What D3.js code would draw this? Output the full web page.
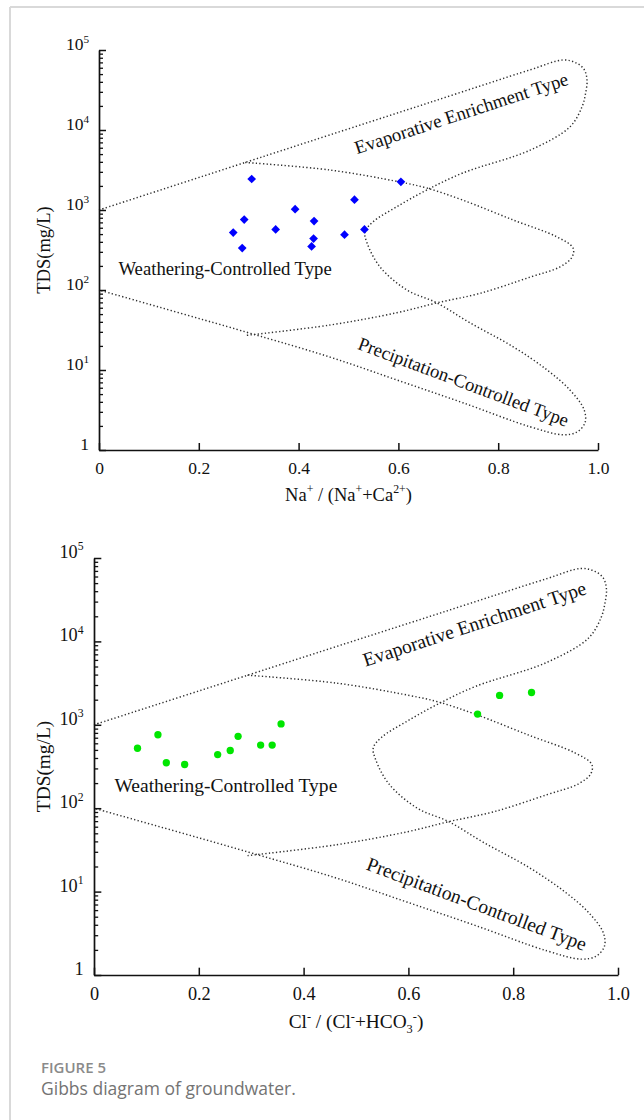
<!DOCTYPE html>
<html>
<head>
<meta charset="utf-8">
<script src="https://cdn.jsdelivr.net/npm/d3@7"></script>
<style>
  html, body { margin: 0; padding: 0; background: #fff; }
  svg { display: block; }
</style>
</head>
<body>
<svg id="fig" width="644" height="1120"></svg>
<script>
// Groundwater samples: total dissolved solids (mg/L) and the two Gibbs ratios
const tds      = [2440, 2250, 1345, 1025, 760, 728, 523, 572, 440, 492, 572, 334, 351];
const naRatio  = [0.306, 0.605, 0.512, 0.393, 0.291, 0.431, 0.269, 0.354, 0.430, 0.492, 0.532, 0.287, 0.426];
const clRatio  = [0.835, 0.774, 0.732, 0.357, 0.122, 0.275, 0.083, 0.318, 0.236, 0.260, 0.340, 0.173, 0.138];

// Axis ticks
const xTicks = [0, 0.2, 0.4, 0.6, 0.8, 1.0];
const xTickLabels = ["0", "0.2", "0.4", "0.6", "0.8", "1.0"];
const yTicks = [1, 10, 100, 1000, 10000, 100000];
const yTickExponents = [null, "1", "2", "3", "4", "5"];

// Gibbs envelope: [ratio, TDS] along the boomerang-shaped outer boundary
const outerBoundary = [
  [0, 1000], [0.293, 3930], [0.463, 8700], [0.663, 22100], [0.864, 56500],
  [0.930, 75000], [0.956, 69000], [0.972, 57500], [0.978, 42000], [0.975, 28500],
  [0.968, 19500], [0.944, 11000], [0.864, 5600], [0.729, 2900], [0.657, 1780],
  [0.597, 1100], [0.549, 710], [0.533, 530], [0.537, 390], [0.563, 195],
  [0.617, 100], [0.677, 69], [0.743, 39], [0.830, 19.5], [0.898, 10],
  [0.944, 5.6], [0.972, 3.2], [0.974, 2.2], [0.958, 1.68], [0.930, 1.55],
  [0.864, 1.95], [0.729, 3.9], [0.597, 7.5], [0.463, 14.5], [0.293, 30], [0, 100]
];
// Inner loop separating the rock-weathering field
const innerBoundary = [
  [0.293, 3930], [0.463, 3160], [0.603, 2240], [0.657, 1880], [0.729, 1330],
  [0.830, 750], [0.918, 460], [0.950, 335], [0.948, 258], [0.924, 195],
  [0.864, 145], [0.764, 91], [0.677, 69], [0.597, 52], [0.463, 36.5], [0.293, 27]
];

const regionNames = ["Weathering-Controlled Type", "Evaporative Enrichment Type", "Precipitation-Controlled Type"];

const svg = d3.select("#fig");
const SERIF = "'Liberation Serif', 'Times New Roman', serif";

// page frame
svg.append("line").attr("x1", 10).attr("x2", 644).attr("y1", 7).attr("y2", 7)
  .attr("stroke", "#d9d9d9").attr("stroke-width", 2);
svg.append("line").attr("x1", 10).attr("x2", 10).attr("y1", 7).attr("y2", 1120)
  .attr("stroke", "#d9d9d9").attr("stroke-width", 2);

// write text made of plain / superscript / subscript runs
function richText(sel, parts, fs) {
  sel.attr("font-size", fs);
  let shift = 0;
  parts.forEach(p => {
    const target = p.s === "sup" ? -0.42 * fs : p.s === "sub" ? 0.22 * fs : 0;
    sel.append("tspan")
      .attr("dy", (target - shift).toFixed(2))
      .attr("font-size", p.s ? (fs * 0.64).toFixed(2) : fs)
      .text(p.t);
    shift = target;
  });
}

function drawGibbs(cfg) {
  const k = cfg.k;
  const x = d3.scaleLinear().domain([0, 1]).range([cfg.left, cfg.right]);
  const y = d3.scaleLog().domain([1, 1e5]).range([cfg.bottom, cfg.top]);
  const g = svg.append("g");

  // boundary curves
  const line = d3.line().x(d => x(d[0])).y(d => y(d[1])).curve(d3.curveCatmullRom.alpha(0.5));
  [outerBoundary, innerBoundary].forEach(b => {
    g.append("path").attr("d", line(b))
      .attr("fill", "none").attr("stroke", "#2e2e2e")
      .attr("stroke-width", 1.45).attr("stroke-dasharray", "1.3 2.3");
  });

  // x axis
  const fsTick = 17.5 * k;
  const xAxis = g.append("g").attr("transform", `translate(0,${cfg.bottom})`)
    .call(d3.axisBottom(x).tickValues(xTicks).tickSize(-7 * k).tickSizeOuter(0)
      .tickPadding(24 * k - 0.71 * fsTick).tickFormat((d, i) => xTickLabels[i]));
  xAxis.attr("font-size", fsTick);
  xAxis.select(".domain").attr("stroke", "#111").attr("stroke-width", 1.7);
  xAxis.selectAll(".tick line").attr("stroke", "#111").attr("stroke-width", 1.5);
  xAxis.selectAll(".tick text").attr("font-family", SERIF).attr("font-size", fsTick).attr("fill", "#111");

  // y axis: major and minor ticks
  const minor = [];
  [1, 10, 100, 1000, 10000].forEach(dec => { for (let m = 2; m <= 9; m++) minor.push(dec * m); });
  const yMinor = g.append("g").attr("transform", `translate(${cfg.left},0)`)
    .call(d3.axisLeft(y).tickValues(minor).tickSize(-4 * k).tickSizeOuter(0));
  yMinor.select(".domain").remove();
  yMinor.selectAll(".tick text").remove();
  yMinor.selectAll(".tick line").attr("stroke", "#111").attr("stroke-width", 1.3);
  const yAxis = g.append("g").attr("transform", `translate(${cfg.left},0)`)
    .call(d3.axisLeft(y).tickValues(yTicks).tickSize(-7 * k).tickSizeOuter(0));
  yAxis.selectAll(".tick text").remove();
  yAxis.select(".domain").attr("stroke", "#111").attr("stroke-width", 1.7);
  yAxis.selectAll(".tick line").attr("stroke", "#111").attr("stroke-width", 1.5);

  yTicks.forEach((v, i) => {
    const t = g.append("text")
      .attr("x", cfg.left - 10 * k).attr("y", y(v)).attr("dy", (0.33 * fsTick).toFixed(2))
      .attr("text-anchor", "end").attr("font-family", SERIF).attr("fill", "#111");
    if (yTickExponents[i] === null) richText(t, [{ t: "1" }], fsTick);
    else richText(t, [{ t: "10" }, { t: yTickExponents[i], s: "sup" }], fsTick);
  });

  // axis titles
  const fsTitle = 18.5 * k;
  const yt = g.append("text")
    .attr("transform", `translate(${cfg.yTitleX},${(cfg.top + cfg.bottom) / 2}) rotate(-90)`)
    .attr("text-anchor", "middle").attr("font-family", SERIF).attr("fill", "#111");
  richText(yt, [{ t: "TDS(mg/L)" }], fsTitle);
  const xt = g.append("text")
    .attr("x", (cfg.left + cfg.right) / 2).attr("y", cfg.bottom + 51 * k)
    .attr("text-anchor", "middle").attr("font-family", SERIF).attr("fill", "#111");
  richText(xt, cfg.xTitle, fsTitle);

  // region names
  const fsRegion = 18.7 * k;
  const placements = [
    { at: [0.039, 156], anchor: "start", angle: 0 },
    { at: [0.730, 13600], anchor: "middle", angle: -18.2 },
    { at: [0.726, 6.0], anchor: "middle", angle: 20.5 }
  ];
  regionNames.forEach((name, i) => {
    const p = placements[i];
    g.append("text")
      .attr("transform", `translate(${x(p.at[0])},${y(p.at[1])}) rotate(${p.angle})`)
      .attr("text-anchor", p.anchor).attr("font-family", SERIF)
      .attr("font-size", fsRegion).attr("fill", "#111").text(name);
  });

  // samples
  const sym = d3.symbol().type(cfg.symbol).size(cfg.symbolSize);
  g.append("g").selectAll("path").data(cfg.ratio).join("path")
    .attr("transform", (d, i) => `translate(${x(d)},${y(tds[i])}) rotate(${cfg.symbolRotate})`)
    .attr("d", sym).attr("fill", cfg.color);
}

drawGibbs({
  left: 99, right: 598, top: 50, bottom: 450, k: 1, yTitleX: 50,
  ratio: naRatio, color: "#0000ff",
  symbol: d3.symbolSquare, symbolSize: 38, symbolRotate: 45,
  xTitle: [{ t: "Na" }, { t: "+", s: "sup" }, { t: " / (Na" }, { t: "+", s: "sup" },
           { t: "+Ca" }, { t: "2+", s: "sup" }, { t: ")" }]
});

drawGibbs({
  left: 94, right: 618, top: 558, bottom: 975, k: 1.045, yTitleX: 50,
  ratio: clRatio, color: "#00e600",
  symbol: d3.symbolCircle, symbolSize: 42, symbolRotate: 0,
  xTitle: [{ t: "Cl" }, { t: "-", s: "sup" }, { t: " / (Cl" }, { t: "-", s: "sup" },
           { t: "+HCO" }, { t: "3", s: "sub" }, { t: "-", s: "sup" }, { t: ")" }]
});

// caption
const SANS = "'Open Sans', 'Noto Sans', sans-serif";
svg.append("text").attr("x", 41).attr("y", 1073)
  .attr("font-family", SANS).attr("font-size", 15).attr("font-weight", 600)
  .attr("fill", "#8a8a8a").text("FIGURE 5");
svg.append("text").attr("x", 41).attr("y", 1095)
  .attr("font-family", SANS).attr("font-size", 17.5)
  .attr("fill", "#737373").text("Gibbs diagram of groundwater.");
</script>
</body>
</html>
